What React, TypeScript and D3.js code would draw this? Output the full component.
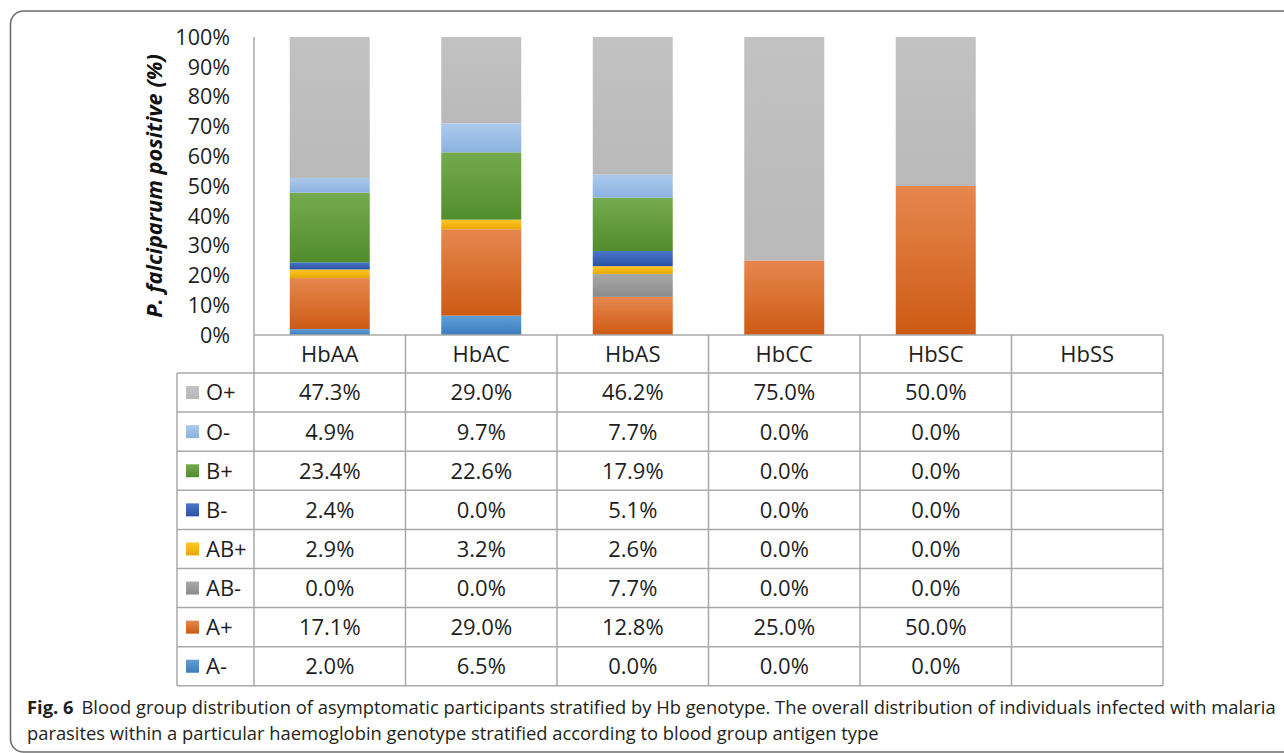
import * as d3 from "d3";
import { useEffect, useRef } from "react";

// Hb genotypes (columns) and blood groups (table rows, top to bottom)
const genotypes = ["HbAA", "HbAC", "HbAS", "HbCC", "HbSC", "HbSS"];
const groups = ["O+", "O-", "B+", "B-", "AB+", "AB-", "A+", "A-"];

// percentages per blood group, one value per genotype (null = no data)
const oPos = [47.3, 29.0, 46.2, 75.0, 50.0, null];
const oNeg = [4.9, 9.7, 7.7, 0.0, 0.0, null];
const bPos = [23.4, 22.6, 17.9, 0.0, 0.0, null];
const bNeg = [2.4, 0.0, 5.1, 0.0, 0.0, null];
const abPos = [2.9, 3.2, 2.6, 0.0, 0.0, null];
const abNeg = [0.0, 0.0, 7.7, 0.0, 0.0, null];
const aPos = [17.1, 29.0, 12.8, 25.0, 50.0, null];
const aNeg = [2.0, 6.5, 0.0, 0.0, 0.0, null];

const yTicks = [0, 0.1, 0.2, 0.3, 0.4, 0.5, 0.6, 0.7, 0.8, 0.9, 1];

// colours [top of gradient, bottom of gradient]
const colors = {
  "O+": ["#c2c2c2", "#b9b9b9"],
  "O-": ["#acc9ec", "#8bb2e0"],
  "B+": ["#74aa4e", "#528d2d"],
  "B-": ["#4b76c6", "#2952a6"],
  "AB+": ["#ffc62a", "#e9a800"],
  "AB-": ["#a8a8a8", "#8b8b8b"],
  "A+": ["#e6874e", "#cd5a14"],
  "A-": ["#5f9fd8", "#3c7cbd"],
};

const FONT = "'Open Sans', sans-serif";
const GRID = "#a9a9a9";

export default function App() {
  const svgRef = useRef(null);

  useEffect(() => {
    const width = 1284;
    const height = 753;
    const svg = d3.select(svgRef.current);
    svg.attr("width", width).attr("height", height);
    svg.selectAll("*").remove();

    const values = { "O+": oPos, "O-": oNeg, "B+": bPos, "B-": bNeg, "AB+": abPos, "AB-": abNeg, "A+": aPos, "A-": aNeg };

    // figure frame
    svg.append("rect")
      .attr("x", 10.5).attr("y", 11).attr("width", 1320).attr("height", 741)
      .attr("rx", 13).attr("fill", "none").attr("stroke", "#6e6e6e").attr("stroke-width", 1.6);

    const left = 254, right = 1163, top = 37, bottom = 335;
    const x = d3.scaleBand().domain(genotypes).range([left, right]).paddingInner(0.472).paddingOuter(0.236);
    const col = d3.scaleBand().domain(genotypes).range([left, right]);
    const y = d3.scaleLinear().domain([0, 1]).range([bottom, top]);

    // gradients
    const defs = svg.append("defs");
    groups.forEach((g, i) => {
      const lg = defs.append("linearGradient").attr("id", "grad" + i)
        .attr("x1", 0).attr("y1", 0).attr("x2", 0).attr("y2", 1);
      lg.append("stop").attr("offset", "0%").attr("stop-color", colors[g][0]);
      lg.append("stop").attr("offset", "100%").attr("stop-color", colors[g][1]);
    });

    // stack from bottom: A- ... O+
    const stackKeys = groups.slice().reverse();
    const rows = genotypes.map((gt, j) => {
      const r = { genotype: gt };
      groups.forEach(g => { r[g] = (values[g][j] ?? 0) / 100; });
      return r;
    });
    const series = d3.stack().keys(stackKeys)(rows);

    svg.append("g").selectAll("g")
      .data(series)
      .join("g")
      .attr("fill", d => "url(#grad" + groups.indexOf(d.key) + ")")
      .selectAll("rect")
      .data(d => d.filter(s => s[1] - s[0] > 0))
      .join("rect")
      .attr("x", d => x(d.data.genotype))
      .attr("width", x.bandwidth())
      .attr("y", d => y(d[1]))
      .attr("height", d => y(d[0]) - y(d[1]));

    // y axis
    svg.append("line").attr("x1", left).attr("x2", left).attr("y1", top).attr("y2", bottom)
      .attr("stroke", GRID).attr("stroke-width", 1.5);
    svg.append("g").selectAll("text")
      .data(yTicks)
      .join("text")
      .attr("x", 230)
      .attr("y", d => y(d))
      .attr("dy", "0.36em")
      .attr("text-anchor", "end")
      .attr("font-family", FONT).attr("font-size", 21.5).attr("fill", "#1e1e1e")
      .text(d => d3.format(".0%")(d));

    svg.append("text")
      .attr("transform", `translate(162,${(top + bottom) / 2}) rotate(-90)`)
      .attr("text-anchor", "middle")
      .attr("font-family", FONT).attr("font-size", 21.8).attr("font-weight", "bold").attr("font-style", "italic")
      .attr("fill", "#111")
      .text("P. falciparum positive (%)");

    // data table
    const headTop = bottom, rowTop = 373, rowH = 39.1;
    const legendLeft = 177;
    const tableBottom = rowTop + rowH * groups.length;
    const grid = svg.append("g").attr("stroke", GRID).attr("stroke-width", 1.5);
    grid.append("line").attr("x1", left).attr("x2", right).attr("y1", headTop).attr("y2", headTop);
    d3.range(groups.length + 1).forEach(i => {
      grid.append("line").attr("x1", legendLeft).attr("x2", right)
        .attr("y1", rowTop + i * rowH).attr("y2", rowTop + i * rowH);
    });
    grid.append("line").attr("x1", legendLeft).attr("x2", legendLeft).attr("y1", rowTop).attr("y2", tableBottom);
    genotypes.forEach(gt => {
      grid.append("line").attr("x1", col(gt)).attr("x2", col(gt)).attr("y1", headTop).attr("y2", tableBottom);
    });
    grid.append("line").attr("x1", right).attr("x2", right).attr("y1", headTop).attr("y2", tableBottom);

    const txt = svg.append("g").attr("font-family", FONT).attr("font-size", 22).attr("fill", "#1e1e1e");
    txt.selectAll(".head")
      .data(genotypes)
      .join("text")
      .attr("x", d => col(d) + col.bandwidth() / 2)
      .attr("y", (headTop + rowTop) / 2)
      .attr("dy", "0.36em")
      .attr("text-anchor", "middle")
      .text(d => d);

    groups.forEach((g, i) => {
      const cy = rowTop + i * rowH + rowH / 2;
      svg.append("rect").attr("x", 186).attr("y", cy - 6.5).attr("width", 13).attr("height", 13)
        .attr("fill", `url(#grad${i})`);
      txt.append("text").attr("x", 206).attr("y", cy).attr("dy", "0.36em").text(g);
      genotypes.forEach((gt, j) => {
        const v = values[g][j];
        if (v == null) return;
        txt.append("text")
          .attr("x", col(gt) + col.bandwidth() / 2)
          .attr("y", cy).attr("dy", "0.36em")
          .attr("text-anchor", "middle")
          .text(v.toFixed(1) + "%");
      });
    });

    // caption
    const cap = svg.append("g").attr("font-family", FONT).attr("font-size", 18.35).attr("fill", "#231f20");
    const l1 = cap.append("text").attr("x", 27).attr("y", 714);
    l1.append("tspan").attr("font-weight", "bold").text("Fig. 6");
    l1.append("tspan").attr("dx", 8).text("Blood group distribution of asymptomatic participants stratified by Hb genotype. The overall distribution of individuals infected with malaria");
    cap.append("text").attr("x", 27).attr("y", 740)
      .text("parasites within a particular haemoglobin genotype stratified according to blood group antigen type");
  }, []);

  return (
    <svg ref={svgRef} style={{ position: "absolute", left: 0, top: 0, background: "#fff" }} />
  );
}
